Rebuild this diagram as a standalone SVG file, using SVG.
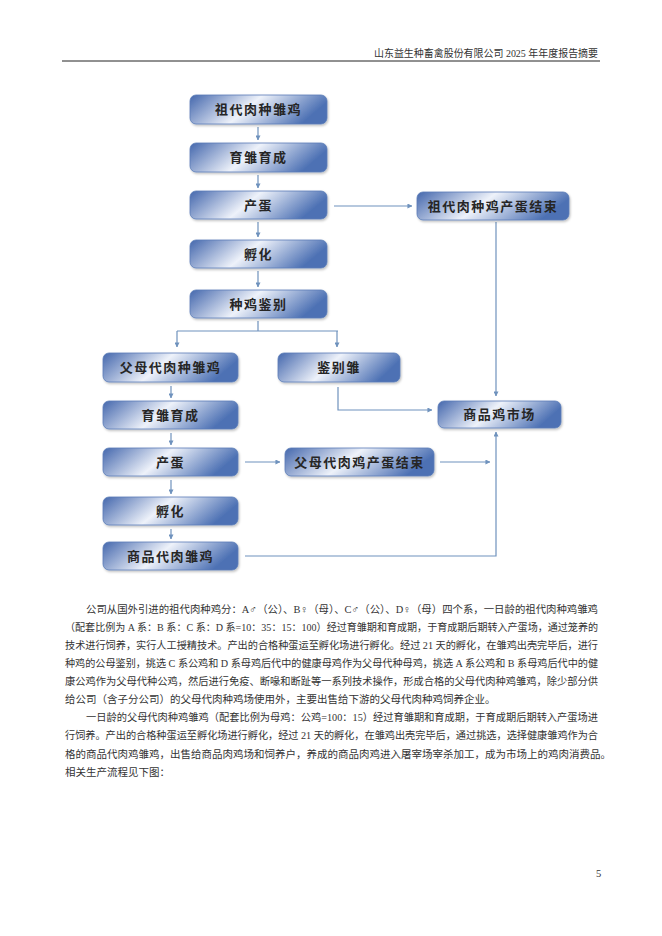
<svg xmlns="http://www.w3.org/2000/svg" width="662" height="936" viewBox="0 0 662 936">
<defs>
<linearGradient id="g" x1="0" y1="0" x2="1" y2="0.25">
<stop offset="0" stop-color="#4467ad"/>
<stop offset="0.5" stop-color="#eef2fa"/>
<stop offset="1" stop-color="#4d71b4"/>
</linearGradient>
<filter id="sh" x="-10%" y="-20%" width="120%" height="150%">
<feDropShadow dx="1" dy="1.5" stdDeviation="1.2" flood-color="#000" flood-opacity="0.25"/>
</filter>
<marker id="ah" viewBox="0 0 6 6" refX="5.5" refY="3" markerWidth="5" markerHeight="5" markerUnits="userSpaceOnUse" orient="auto">
<path d="M0,0 L6,3 L0,6 z" fill="#6f92bd"/>
</marker>
<style>
.box{fill:url(#g);stroke:#5a7cb8;stroke-width:0.8;filter:url(#sh)}
.lb{font-family:"Noto Sans CJK SC","Noto Sans",sans-serif;font-size:13px;font-weight:bold;fill:#262626;text-anchor:middle;letter-spacing:1.5px}
.c{fill:none;stroke:#6f92bd;stroke-width:1.2}
.a{marker-end:url(#ah)}
.p{font-family:"Liberation Serif","Noto Sans CJK SC",serif;font-size:10.5px;fill:#333}
</style>
</defs>
<rect width="662" height="936" fill="#fff"/>
<text x="598" y="57" class="p" text-anchor="end" font-size="10" textLength="224" lengthAdjust="spacingAndGlyphs">山东益生种畜禽股份有限公司 2025 年年度报告摘要</text>
<line x1="62" y1="61" x2="600" y2="61" stroke="#222" stroke-width="1"/>

<g id="connectors">
<path class="c a" d="M258,127 V140"/>
<path class="c a" d="M258,175 V188"/>
<path class="c a" d="M258,222 V237"/>
<path class="c a" d="M258,271 V287"/>
<path class="c" d="M258,321 V331 M177,331 H338"/>
<path class="c a" d="M177,331 V347"/>
<path class="c a" d="M337,331 V347"/>
<path class="c a" d="M171,386 V398"/>
<path class="c a" d="M171,433 V445"/>
<path class="c a" d="M171,480 V494"/>
<path class="c a" d="M171,529 V539"/>
<path class="c a" d="M334,206 H412"/>
<path class="c a" d="M496,222 V396"/>
<path class="c a" d="M338,387 V410 H432"/>
<path class="c a" d="M245,462 H280"/>
<path class="c a" d="M440,462 H490"/>
<path class="c a" d="M245,556 H496 V432"/>
</g>

<g id="n1"><rect class="box" x="190" y="95" width="137" height="29" rx="6"/><text class="lb" x="258.5" y="114">祖代肉种雏鸡</text></g>
<g id="n2"><rect class="box" x="190" y="143" width="137" height="29" rx="6"/><text class="lb" x="258.5" y="162">育雏育成</text></g>
<g id="n3"><rect class="box" x="190" y="191" width="137" height="28" rx="6"/><text class="lb" x="258.5" y="210">产蛋</text></g>
<g id="n4"><rect class="box" x="190" y="240" width="137" height="28" rx="6"/><text class="lb" x="258.5" y="259">孵化</text></g>
<g id="n5"><rect class="box" x="190" y="290" width="137" height="28" rx="6"/><text class="lb" x="258.5" y="309">种鸡鉴别</text></g>
<g id="n6"><rect class="box" x="417" y="192" width="152" height="28" rx="6"/><text class="lb" x="493" y="211">祖代肉种鸡产蛋结束</text></g>
<g id="n7"><rect class="box" x="103" y="353" width="135" height="29" rx="6"/><text class="lb" x="170.5" y="372">父母代肉种雏鸡</text></g>
<g id="n8"><rect class="box" x="278" y="353" width="122" height="29" rx="6"/><text class="lb" x="339" y="372">鉴别雏</text></g>
<g id="n9"><rect class="box" x="438" y="401" width="123" height="27" rx="6"/><text class="lb" x="499.5" y="419">商品鸡市场</text></g>
<g id="n10"><rect class="box" x="103" y="401" width="135" height="28" rx="6"/><text class="lb" x="170.5" y="420">育雏育成</text></g>
<g id="n11"><rect class="box" x="103" y="448" width="135" height="28" rx="6"/><text class="lb" x="170.5" y="467">产蛋</text></g>
<g id="n12"><rect class="box" x="285" y="448" width="149" height="28" rx="6"/><text class="lb" x="359.5" y="467">父母代肉鸡产蛋结束</text></g>
<g id="n13"><rect class="box" x="103" y="497" width="135" height="28" rx="6"/><text class="lb" x="170.5" y="516">孵化</text></g>
<g id="n14"><rect class="box" x="103" y="542" width="135" height="28" rx="6"/><text class="lb" x="170.5" y="561">商品代肉雏鸡</text></g>

<g id="body">
<text class="p" x="86" y="613" textLength="512" lengthAdjust="spacingAndGlyphs">公司从国外引进的祖代肉种鸡分：A♂（公）、B♀（母）、C♂（公）、D♀（母）四个系，一日龄的祖代肉种鸡雏鸡</text>
<text class="p" x="65" y="631" textLength="533" lengthAdjust="spacingAndGlyphs">（配套比例为 A 系：B 系：C 系：D 系=10：35：15：100）经过育雏期和育成期，于育成期后期转入产蛋场，通过笼养的</text>
<text class="p" x="65" y="649" textLength="533" lengthAdjust="spacingAndGlyphs">技术进行饲养，实行人工授精技术。产出的合格种蛋运至孵化场进行孵化。经过 21 天的孵化，在雏鸡出壳完毕后，进行</text>
<text class="p" x="65" y="667" textLength="533" lengthAdjust="spacingAndGlyphs">种鸡的公母鉴别，挑选 C 系公鸡和 D 系母鸡后代中的健康母鸡作为父母代种母鸡，挑选 A 系公鸡和 B 系母鸡后代中的健</text>
<text class="p" x="65" y="685" textLength="533" lengthAdjust="spacingAndGlyphs">康公鸡作为父母代种公鸡，然后进行免疫、断喙和断趾等一系列技术操作，形成合格的父母代肉种鸡雏鸡，除少部分供</text>
<text class="p" x="65" y="703">给公司（含子分公司）的父母代肉种鸡场使用外，主要出售给下游的父母代肉种鸡饲养企业。</text>
<text class="p" x="86" y="721" textLength="512" lengthAdjust="spacingAndGlyphs">一日龄的父母代肉种鸡雏鸡（配套比例为母鸡：公鸡=100：15）经过育雏期和育成期，于育成期后期转入产蛋场进</text>
<text class="p" x="65" y="739" textLength="533" lengthAdjust="spacingAndGlyphs">行饲养。产出的合格种蛋运至孵化场进行孵化，经过 21 天的孵化，在雏鸡出壳完毕后，通过挑选，选择健康雏鸡作为合</text>
<text class="p" x="65" y="758">格的商品代肉鸡雏鸡，出售给商品肉鸡场和饲养户，养成的商品肉鸡进入屠宰场宰杀加工，成为市场上的鸡肉消费品。</text>
<text class="p" x="65" y="776">相关生产流程见下图：</text>
</g>
<text class="p" x="596" y="877" font-size="10">5</text>
</svg>
